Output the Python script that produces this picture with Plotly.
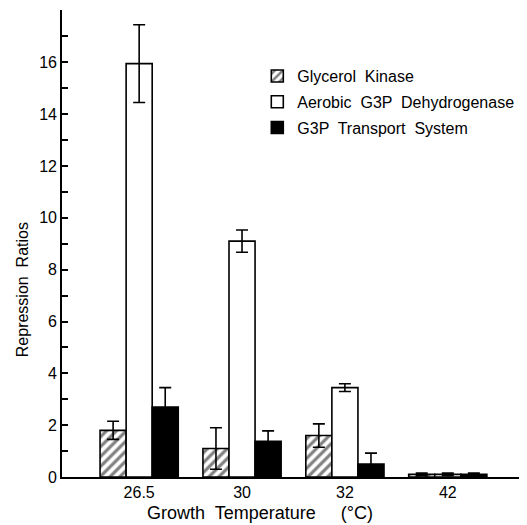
import plotly.graph_objects as go

categories = ["26.5", "30", "32", "42"]
kinase = [1.8, 1.1, 1.6, 0.1]
kinase_err = [0.35, 0.8, 0.45, 0.05]
dehydro = [15.95, 9.1, 3.45, 0.1]
dehydro_err = [1.5, 0.43, 0.15, 0.05]
transport = [2.7, 1.38, 0.5, 0.1]
transport_err = [0.75, 0.4, 0.42, 0.05]
y_ticks = [0, 2, 4, 6, 8, 10, 12, 14, 16]

FONT = "Liberation Sans"

def err(vals):
    return dict(type="data", array=vals, visible=True, color="black",
                thickness=1.6, width=6)

fig = go.Figure()
fig.add_trace(go.Bar(
    x=categories, y=kinase, name="Glycerol  Kinase", legendgroup="a",
    marker=dict(color="white", line=dict(color="black", width=1.6),
                pattern=dict(shape="/", fgcolor="black", bgcolor="white",
                             size=7, solidity=0.45)),
    error_y=err(kinase_err)))
fig.add_trace(go.Bar(
    x=categories, y=dehydro, name="Aerobic  G3P  Dehydrogenase", legendgroup="b",
    marker=dict(color="white", line=dict(color="black", width=1.6)),
    error_y=err(dehydro_err)))
fig.add_trace(go.Bar(
    x=categories, y=transport, name="G3P  Transport  System", legendgroup="c",
    marker=dict(color="black", line=dict(color="black", width=1.6)),
    error_y=err(transport_err)))

fig.update_layout(
    width=519, height=517,
    margin=dict(l=54, r=0, t=2, b=48, autoexpand=False),
    paper_bgcolor="white", plot_bgcolor="white",
    barmode="group", bargap=0.24, bargroupgap=0,
    font=dict(family=FONT, size=15, color="black"),
    showlegend=True,
    legend=dict(x=0.42, y=0.895, xanchor="left", yanchor="top",
                font=dict(size=16), bgcolor="rgba(0,0,0,0)",
                tracegroupgap=2, itemwidth=30),
    xaxis=dict(type="category", range=[-0.75, 3.77],
               showline=True, linecolor="black", linewidth=1.6,
               ticks="", showgrid=False, zeroline=False,
               tickfont=dict(size=16)),
    yaxis=dict(range=[0, 18.02], showline=True, linecolor="black",
               linewidth=1.6, ticks="inside", ticklen=6, tickwidth=1.5,
               tickcolor="black", tickvals=y_ticks, showgrid=False,
               zeroline=False, tickfont=dict(size=16),
               minor=dict(ticks="inside", ticklen=6, tickwidth=1.5,
                          tickcolor="black", dtick=1, tick0=0, showgrid=False)),
)
fig.add_annotation(text="Repression  Ratios", xref="paper", yref="paper",
                   x=-0.086, y=0.40, xanchor="center", yanchor="middle",
                   textangle=-90, showarrow=False,
                   font=dict(size=16, family=FONT))
fig.add_annotation(text="Growth  Temperature     (°C)", xref="paper", yref="paper",
                   x=0.426, y=-0.077, xanchor="center", yanchor="middle",
                   showarrow=False, font=dict(size=18, family=FONT))

fig.write_html("out.html")
